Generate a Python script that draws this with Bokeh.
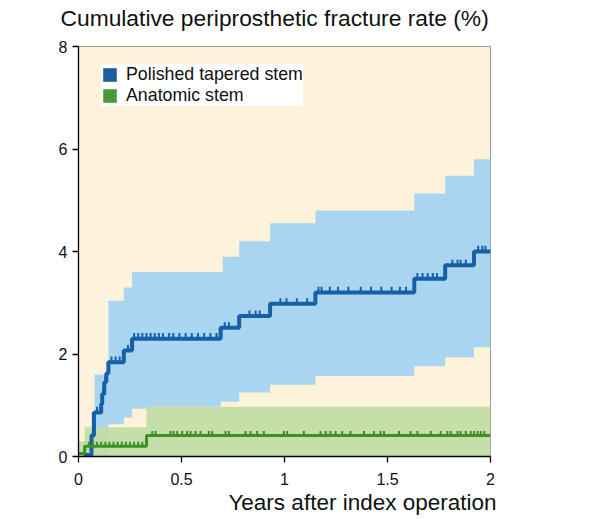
import numpy as np
from bokeh.plotting import figure
from bokeh.models import Legend, LegendItem, FixedTicker, Title
from bokeh.embed import file_html
from bokeh.resources import INLINE

# ---- data ----
x_ticks = [0, 0.5, 1, 1.5, 2]
x_tick_labels = ["0", "0.5", "1", "1.5", "2"]
y_ticks = [0, 2, 4, 6, 8]

# Polished tapered stem: Kaplan-Meier style step curve
pts_t = [0.025, 0.063, 0.075, 0.11, 0.115, 0.125, 0.135, 0.145, 0.22, 0.26, 0.69, 0.78, 0.93, 1.15, 1.63, 1.78, 1.92, 2.0]
pts_v = [0.03, 0.41, 0.86, 1.02, 1.22, 1.45, 1.62, 1.84, 2.07, 2.3, 2.51, 2.74, 2.98, 3.2, 3.47, 3.73, 4.0, 4.0]
# CI upper / lower
pts_up_t = [0.025, 0.063, 0.078, 0.145, 0.22, 0.26, 0.70, 0.78, 0.93, 1.15, 1.63, 1.78, 1.92, 2.0]
pts_up_v = [0.3, 0.86, 1.6, 3.04, 3.3, 3.6, 3.9, 4.2, 4.55, 4.8, 5.13, 5.48, 5.8, 5.8]
pts_lo_t = [0.025, 0.145, 0.22, 0.26, 0.33, 0.69, 0.78, 0.93, 1.15, 1.63, 1.78, 1.92, 2.0]
pts_lo_v = [0.0, 0.63, 0.76, 0.93, 0.97, 1.07, 1.25, 1.4, 1.57, 1.76, 1.93, 2.13, 2.13]
pts_censor = [0.09, 0.12, 0.13, 0.16, 0.18, 0.2, 0.24, 0.27, 0.29, 0.31, 0.33, 0.35, 0.37,
              0.39, 0.41, 0.44, 0.46, 0.49, 0.52, 0.55, 0.58, 0.61, 0.64, 0.67, 0.71, 0.73,
              0.83, 0.86, 0.88, 0.98, 1.01, 1.06, 1.11, 1.165, 1.18, 1.22, 1.26, 1.31, 1.37,
              1.42, 1.47, 1.52, 1.56, 1.59, 1.645, 1.67, 1.695, 1.72, 1.74, 1.815, 1.84,
              1.855, 1.88, 1.94, 1.96, 1.975]

# Anatomic stem
ana_t = [0.0, 0.03, 0.33, 2.0]
ana_v = [0.06, 0.2, 0.41, 0.41]
ana_up_t = [0.0, 0.03, 0.33, 2.0]
ana_up_v = [0.3, 0.57, 0.97, 0.97]
ana_lo_v = [0.0, 0.0, 0.0, 0.0]
ana_censor = [0.05, 0.07, 0.09, 0.11, 0.13, 0.15, 0.17, 0.19, 0.21, 0.23, 0.25, 0.27, 0.29,
              0.31, 0.358, 0.374, 0.447, 0.462, 0.479, 0.503, 0.527, 0.544, 0.568, 0.592,
              0.633, 0.649, 0.714, 0.73, 0.811, 0.835, 0.867, 0.9, 0.997, 1.013, 1.094,
              1.175, 1.2, 1.223, 1.248, 1.28, 1.32, 1.386, 1.434, 1.466, 1.483, 1.556,
              1.612, 1.645, 1.71, 1.758, 1.791, 1.807, 1.84, 1.855, 1.88, 1.904, 1.92,
              1.937, 1.953, 1.97]

series_names = ["Polished tapered stem", "Anatomic stem"]
title_text = "Cumulative periprosthetic fracture rate (%)"
xlabel_text = "Years after index operation"

# ---- styling ----
CREAM = "#FEF2DA"
BLUE_BAND = "#A9D5F0"
BLUE_LINE = "#1760A8"
GREEN_BAND = "#C1DCA4"
GREEN_LINE = "#3E8F2A"
LEG_BLUE = "#1E5E9E"
LEG_GREEN = "#4A9A38"
FONT = "Liberation Sans"
TXT = "#111111"


def step_lookup(ts, vs, q):
    idx = np.searchsorted(np.asarray(ts), np.asarray(q), side="right") - 1
    idx = np.clip(idx, 0, len(vs) - 1)
    return [float(v) for v in np.asarray(vs)[idx]]


p = figure(width=590, height=516, x_range=(0, 2), y_range=(0, 8),
           output_backend="svg", toolbar_location=None,
           min_border_left=78, min_border_right=100,
           min_border_top=46, min_border_bottom=60)
p.background_fill_color = CREAM
p.border_fill_color = "white"
p.outline_line_color = "#9a9a9a"
p.outline_line_width = 1
p.xgrid.visible = False
p.ygrid.visible = False

# bands (upper and lower bounds have different step times: use the union)
union_t = sorted(set(pts_up_t) | set(pts_lo_t))
p.varea_step(x=union_t, y1=step_lookup(pts_lo_t, pts_lo_v, union_t),
             y2=step_lookup(pts_up_t, pts_up_v, union_t),
             step_mode="after", fill_color=BLUE_BAND, fill_alpha=1)
p.varea_step(x=ana_up_t, y1=ana_lo_v, y2=ana_up_v, step_mode="after",
             fill_color=GREEN_BAND, fill_alpha=0.92)

# curves with censoring marks (short ticks above the line)
p.step(x=pts_t, y=pts_v, mode="after", line_color=BLUE_LINE, line_width=4)
pc_y = step_lookup(pts_t, pts_v, pts_censor)
p.segment(x0=pts_censor, y0=pc_y, x1=pts_censor, y1=[v + 0.11 for v in pc_y],
          line_color=BLUE_LINE, line_width=2)
p.step(x=ana_t, y=ana_v, mode="after", line_color=GREEN_LINE, line_width=3)
ac_y = step_lookup(ana_t, ana_v, ana_censor)
p.segment(x0=ana_censor, y0=ac_y, x1=ana_censor, y1=[v + 0.09 for v in ac_y],
          line_color=GREEN_LINE, line_width=2)

# legend swatches (zero-area quads at the origin; only their legend glyph shows)
r1 = p.quad(left=[ana_t[0]], right=[ana_t[0]], top=[ana_lo_v[0]], bottom=[ana_lo_v[0]],
            fill_color=LEG_BLUE, line_color=None)
r2 = p.quad(left=[ana_t[0]], right=[ana_t[0]], top=[ana_lo_v[0]], bottom=[ana_lo_v[0]],
            fill_color=LEG_GREEN, line_color=None)
legend = Legend(items=[LegendItem(label=series_names[0], renderers=[r1]),
                       LegendItem(label=series_names[1], renderers=[r2])],
                location=(23, 350), glyph_width=17, glyph_height=17,
                label_standoff=8, spacing=-1, padding=6,
                label_text_font=FONT, label_text_font_size="17.8px",
                label_text_color=TXT,
                background_fill_color="white", background_fill_alpha=1,
                border_line_color=None)
p.add_layout(legend, "center")

# axes
for ax in (p.xaxis[0], p.yaxis[0]):
    ax.axis_line_color = "black"
    ax.axis_line_width = 1.3
    ax.major_tick_line_color = "black"
    ax.major_tick_line_width = 1.3
    ax.major_tick_in = 0
    ax.major_tick_out = 6
    ax.minor_tick_line_color = None
    ax.major_label_text_font = FONT
    ax.major_label_text_font_size = "16px"
    ax.major_label_text_color = TXT
p.xaxis.ticker = FixedTicker(ticks=x_ticks)
p.xaxis.major_label_overrides = {t: s for t, s in zip(x_ticks, x_tick_labels)}
p.xaxis.major_label_standoff = 10
p.yaxis.ticker = FixedTicker(ticks=y_ticks)
p.yaxis.major_label_standoff = 5

# chart title (top left) with a thin spacer between it and the frame
p.title = Title(text=title_text, align="left", offset=-18, standoff=2,
                text_font=FONT, text_font_size="22.8px", text_font_style="normal",
                text_color=TXT)
p.add_layout(Title(text=" ", text_font_size="10px", standoff=2), "above")
# x-axis title (bottom right)
p.add_layout(Title(text=xlabel_text, align="right", offset=-6, standoff=1,
                   text_font=FONT, text_font_size="22.5px", text_font_style="normal",
                   text_color=TXT), "below")

open("out.html", "w").write(file_html(p, INLINE))
